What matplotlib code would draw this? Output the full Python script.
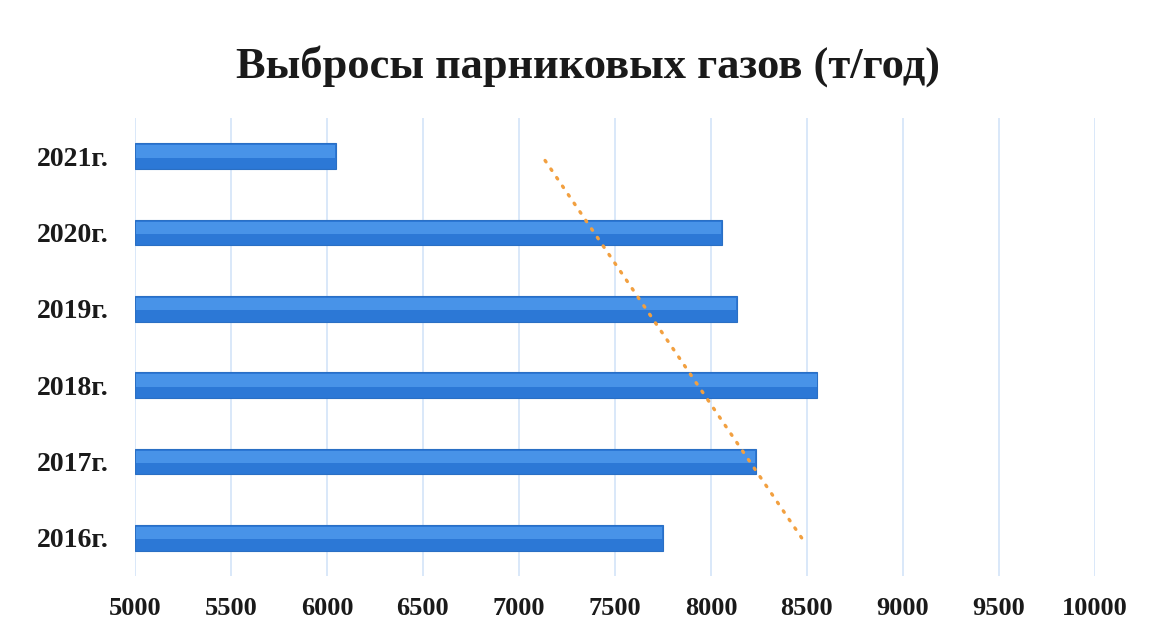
import numpy as np
import matplotlib
matplotlib.use('Agg')
import matplotlib.pyplot as plt

# data
years = ['2016г.', '2017г.', '2018г.', '2019г.', '2020г.', '2021г.']
emissions = [7750, 8235, 8555, 8135, 8058, 6048]
x_ticks = [5000, 5500, 6000, 6500, 7000, 7500, 8000, 8500, 9000, 9500, 10000]
title = 'Выбросы парниковых газов (т/год)'

plt.rcParams['font.family'] = ['Liberation Serif', 'DejaVu Serif']

fig = plt.figure(figsize=(11.53, 6.33), dpi=100)
ax = fig.add_axes([0.117, 0.09, 0.8326, 0.7236])

pos = np.arange(len(years))
vals = np.array(emissions, dtype=float)
base = x_ticks[0]
bar_h = 0.34

# main bar (darker lower part) + lighter upper band for the bevel look
ax.barh(pos, vals - base, left=base, height=bar_h, color='#2c78d6',
        edgecolor='#2a6fc4', linewidth=0.8, zorder=3)
ax.barh(pos + bar_h * 0.18, vals - base - 8, left=base + 4, height=bar_h * 0.48,
        color='#4893e8', linewidth=0, zorder=4)

# linear trend line
k, b = np.polyfit(pos, vals, 1)
ax.plot(k * pos + b, pos, ls=(0, (0.5, 2.6)), color='#f2a040', lw=2.4,
        dash_capstyle='round', zorder=5)

ax.set_xlim(x_ticks[0], x_ticks[-1])
ax.set_ylim(-0.5, len(years) - 0.5)
ax.set_xticks(x_ticks)
ax.set_xticklabels([str(t) for t in x_ticks], fontsize=19, fontweight='bold', color='#1a1a1a')
ax.set_yticks(pos)
ax.set_yticklabels(years, fontsize=20, fontweight='bold', color='#1a1a1a')
ax.tick_params(length=0, pad=19, axis='y')
ax.tick_params(length=0, pad=15, axis='x')
ax.grid(axis='x', color='#d0e2f8', lw=1.1, zorder=0)
for sp in ax.spines.values():
  sp.set_visible(False)

fig.text(0.51, 0.896, title, ha='center', va='center', fontsize=32, fontweight='bold', color='#1a1a1a')

fig.savefig('out.png', dpi=100, facecolor='white')
